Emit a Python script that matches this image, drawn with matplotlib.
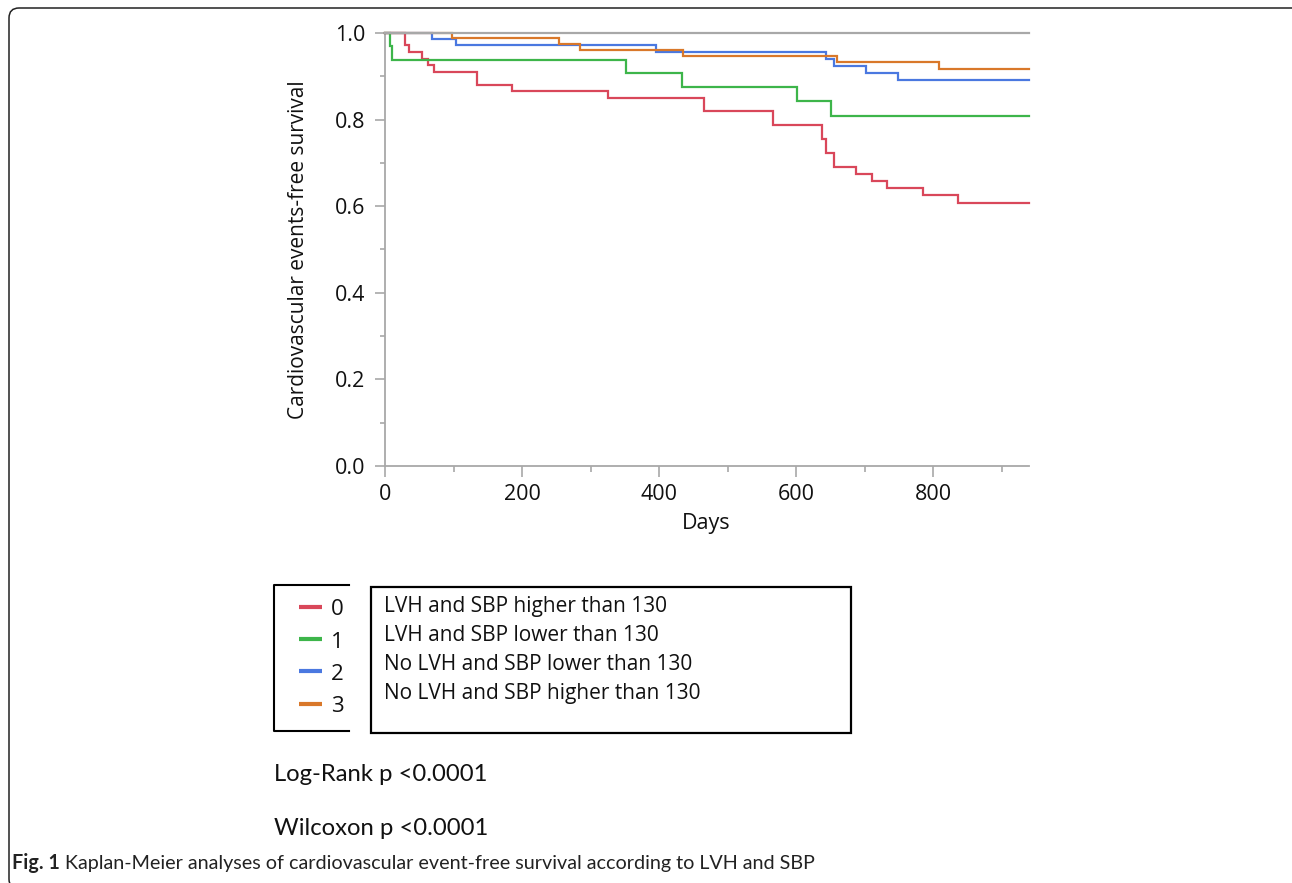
import matplotlib
matplotlib.use('Agg')
import matplotlib.pyplot as plt
from matplotlib.lines import Line2D
from matplotlib.patches import Rectangle, FancyBboxPatch
from matplotlib.ticker import MultipleLocator, FormatStrFormatter
from matplotlib.transforms import IdentityTransform

# ---------------- data ----------------
group_codes = ['0', '1', '2', '3']
group_labels = ['LVH and SBP higher than 130',
                'LVH and SBP lower than 130',
                'No LVH and SBP lower than 130',
                'No LVH and SBP higher than 130']

red_days = [0, 29, 35, 54, 63, 71, 134, 186, 326, 465, 566, 638, 644, 655, 688, 711, 733, 785, 836]
red_surv = [1.0, 0.972, 0.955, 0.941, 0.926, 0.911, 0.881, 0.865, 0.850, 0.820, 0.788, 0.756,
            0.724, 0.691, 0.675, 0.659, 0.643, 0.627, 0.608]

green_days = [0, 8, 10, 352, 433, 601, 651]
green_surv = [1.0, 0.970, 0.938, 0.907, 0.875, 0.842, 0.809]

blue_days = [0, 69, 103, 396, 643, 655, 702, 749]
blue_surv = [1.0, 0.987, 0.972, 0.956, 0.940, 0.923, 0.907, 0.891]

orange_days = [0, 98, 254, 285, 435, 660, 809]
orange_surv = [1.0, 0.988, 0.975, 0.961, 0.948, 0.933, 0.918]

end_day = 940

x_label = 'Days'
y_label = 'Cardiovascular events-free survival'
stat_texts = ['Log-Rank p <0.0001', 'Wilcoxon p <0.0001']
caption_bold = 'Fig. 1'
caption_rest = ' Kaplan-Meier analyses of cardiovascular event-free survival according to LVH and SBP'

# ---------------- style ----------------
colors = ['#d9475a', '#3db54a', '#4a78e0', '#d9782a']
axis_gray = '#a8a8a8'
FONT = ['Open Sans', 'DejaVu Sans']
FONT2 = ['Lato', 'DejaVu Sans']
plt.rcParams['font.family'] = FONT

W, H = 1292, 883
fig = plt.figure(figsize=(W / 100, H / 100), dpi=100)
fig.patch.set_facecolor('white')


def fx(px):
    return px / W


def fy(py):
    return 1 - py / H


ax = fig.add_axes([fx(385), fy(466), (1029 - 385) / W, (466 - 33) / H])
ax.set_xlim(0, end_day)
ax.set_ylim(0, 1.0)

series = [(red_days, red_surv), (green_days, green_surv),
          (blue_days, blue_surv), (orange_days, orange_surv)]
for (d, s), c in zip(series, colors):
    ax.step(list(d) + [end_day], list(s) + [s[-1]], where='post', color=c,
            lw=1.6, clip_on=False, zorder=3, solid_joinstyle='miter')

ax.axhline(1.0, color=axis_gray, lw=1.6, zorder=4, clip_on=False)

for sp in ['top', 'right']:
    ax.spines[sp].set_visible(False)
for sp in ['left', 'bottom']:
    ax.spines[sp].set_color(axis_gray)
    ax.spines[sp].set_linewidth(1.3)

ax.yaxis.set_major_locator(MultipleLocator(0.2))
ax.yaxis.set_minor_locator(MultipleLocator(0.1))
ax.yaxis.set_major_formatter(FormatStrFormatter('%.1f'))
ax.xaxis.set_major_locator(MultipleLocator(200))
ax.xaxis.set_minor_locator(MultipleLocator(100))

ax.tick_params(axis='y', which='major', direction='out', length=7.2, width=1.2,
               color=axis_gray, labelsize=15.5, pad=7, labelcolor='#111111')
ax.tick_params(axis='y', which='minor', direction='out', length=3.6, width=1.2, color=axis_gray)
ax.tick_params(axis='x', which='major', direction='out', length=8, width=1.2,
               color=axis_gray, labelsize=15.5, pad=5, labelcolor='#111111')
ax.tick_params(axis='x', which='minor', direction='out', length=4.3, width=1.2, color=axis_gray)

fig.text(fx(298), fy(249.5), y_label, rotation=90, ha='center', va='center',
         fontsize=15, color='#111111')
fig.text(fx(706), fy(523), x_label, ha='center', va='center', fontsize=15.5, color='#111111')

# ---------------- legend ----------------
fig.add_artist(Line2D([fx(349), fx(274), fx(274), fx(349)],
                      [fy(585), fy(585), fy(731), fy(731)],
                      color='black', lw=1.5, transform=fig.transFigure))
fig.add_artist(Rectangle((fx(370.5), fy(733)), fx(851) - fx(370.5), (733 - 586.5) / H,
                         fill=False, ec='black', lw=1.6, transform=fig.transFigure))

for i, (code, c) in enumerate(zip(group_codes, colors)):
    ly = 606.7 + i * 32.35
    fig.add_artist(Line2D([fx(299), fx(322)], [fy(ly), fy(ly)], color=c, lw=3,
                          solid_capstyle='butt', transform=fig.transFigure))
    fig.text(fx(331), fy(ly + 8.5), code, ha='left', va='baseline', fontsize=16,
             color='#111111')

for i, lab in enumerate(group_labels):
    fig.text(fx(384), fy(612.3 + i * 29), lab, ha='left', va='baseline', fontsize=15,
             color='#111111')

# ---------------- stats ----------------
for i, t in enumerate(stat_texts):
    fig.text(fx(274), fy(781 + i * 54), t, ha='left', va='baseline', fontsize=17.2,
             family=FONT2, color='#111111')

# ---------------- caption ----------------
t1 = fig.text(fx(12), fy(869), caption_bold, ha='left', va='baseline', fontsize=14.2,
              family=FONT2, weight='bold', color='#222222')
fig.canvas.draw()
bb = t1.get_window_extent(renderer=fig.canvas.get_renderer())
fig.text(bb.x1 / W, fy(869), caption_rest, ha='left', va='baseline', fontsize=14.2,
         family=FONT2, color='#222222')

# ---------------- frame ----------------
frame = FancyBboxPatch((9, H - 889), 1300, 881,
                       boxstyle='round,pad=0,rounding_size=10',
                       transform=IdentityTransform(), fill=False, ec='#222222', lw=1.1)
fig.add_artist(frame)

fig.savefig('out.png', dpi=100)
